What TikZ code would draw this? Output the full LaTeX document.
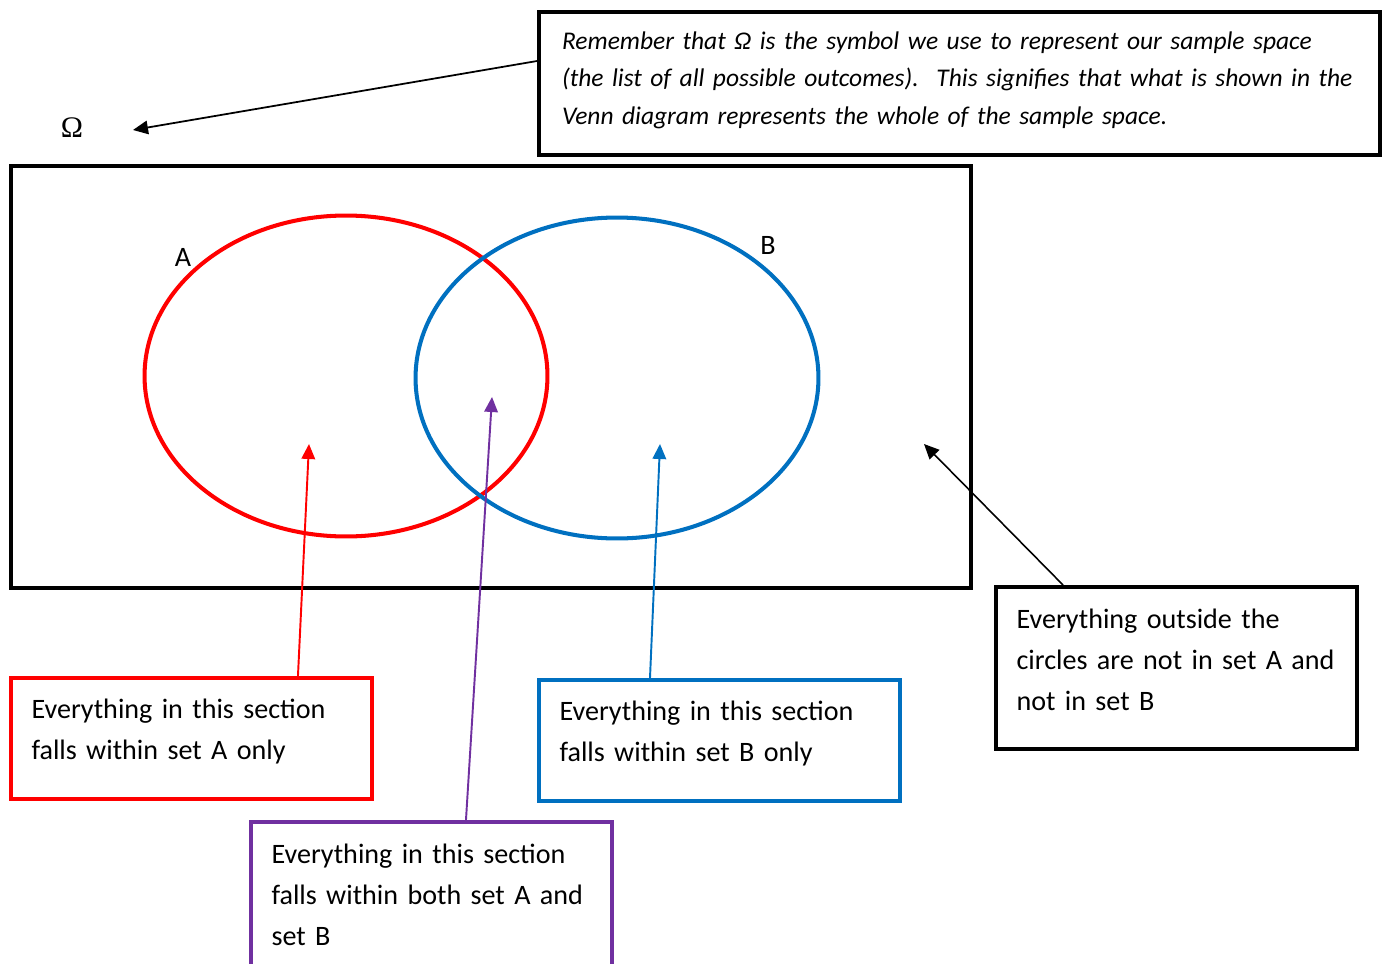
\documentclass[tikz,border=0pt]{standalone}
\usepackage{fontspec}
\setmainfont{Carlito}
\newfontfamily\omegafont{Liberation Serif}
\usetikzlibrary{arrows.meta, positioning, shapes.geometric}
\definecolor{setred}{RGB}{255,0,0}
\definecolor{setblue}{RGB}{0,112,192}
\definecolor{bothpurple}{RGB}{112,48,160}

\begin{document}
\begin{tikzpicture}[
    x=0.02cm, y=-0.02cm,
    box/.style={draw, rectangle, line width=2.3pt, align=left,
                inner xsep=0.41cm, inner ysep=0pt, text width=6.4cm,
                font={\fontsize{16}{23.3}\selectfont}},
    ring/.style={ellipse, draw, line width=2.3pt, inner sep=0pt,
                 minimum width=8.06cm, minimum height=6.42cm},
    pointer/.style={-{Triangle[length=0.3cm, width=0.27cm]}, line width=1.1pt},
    setlbl/.style={font={\fontsize{16}{19}\selectfont}},
]
  \useasboundingbox (0,0) rectangle (1385,963);

  % ---- Sample space ----
  \node[font={\omegafont\fontsize{17}{20}\selectfont}] (omega) at (72,128) {Ω};
  \draw[line width=2.6pt] (11,166) rectangle (971,588);

  \node[box, text width=15.9cm, inner xsep=0.46cm, minimum height=2.86cm,
        text depth=48.9pt,
        font={\itshape\fontsize{14.5}{21.3}\selectfont}] (note) at (959.5,83.5)
    {Remember that Ω is the symbol we use to represent our sample space\\
     (the list of all possible outcomes).\hspace{0.2em} This signifies that what is shown in the\\
     Venn diagram represents the whole of the sample space.};

  % ---- Sets A and B ----
  \node[ring, setred]  (seta) at (346,376) {};
  \node[ring, setblue] (setb) at (617,378) {};
  \node[setlbl] (lbla) at (183,257) {A};
  \node[setlbl] (lblb) at (768,245) {B};

  % ---- Explanation boxes ----
  \node[box, setred, minimum height=2.42cm, text=black, text depth=33.4pt]
    (onlya) at (191.5,738.5)
    {Everything in this section\\falls within set A only};
  \node[box, setblue, minimum height=2.42cm, text=black, text depth=33.4pt]
    (onlyb) at (719.5,740.5)
    {Everything in this section\\falls within set B only};
  \node[box, bothpurple, minimum height=2.92cm, text=black] (both) at (431.5,895)
    {Everything in this section\\falls within both set A and\\set B};
  \node[box, minimum height=3.24cm, text depth=55.7pt] (outside) at (1176.5,668)
    {Everything outside the\\circles are not in set A and\\not in set B};

  % ---- Pointers ----
  \coordinate (omegatip) at (133,130);
  \coordinate (tipa)     at (309,444);
  \coordinate (tipab)    at (492,397);
  \coordinate (tipb)     at (660,444);
  \coordinate (tipout)   at (924,444);

  \draw[pointer, line width=1pt] ([yshift=0.45cm]note.west) -- (omegatip);
  \draw[pointer, setred]      ([xshift=5.78cm]onlya.north west) -- (tipa);
  \draw[pointer, bothpurple]  ([xshift=4.34cm]both.north west) -- (tipab);
  \draw[pointer, setblue]     ([xshift=2.26cm]onlyb.north west) -- (tipb);
  \draw[pointer, line width=0.9pt] ([xshift=1.38cm]outside.north west) -- (tipout);

\end{tikzpicture}
\end{document}
